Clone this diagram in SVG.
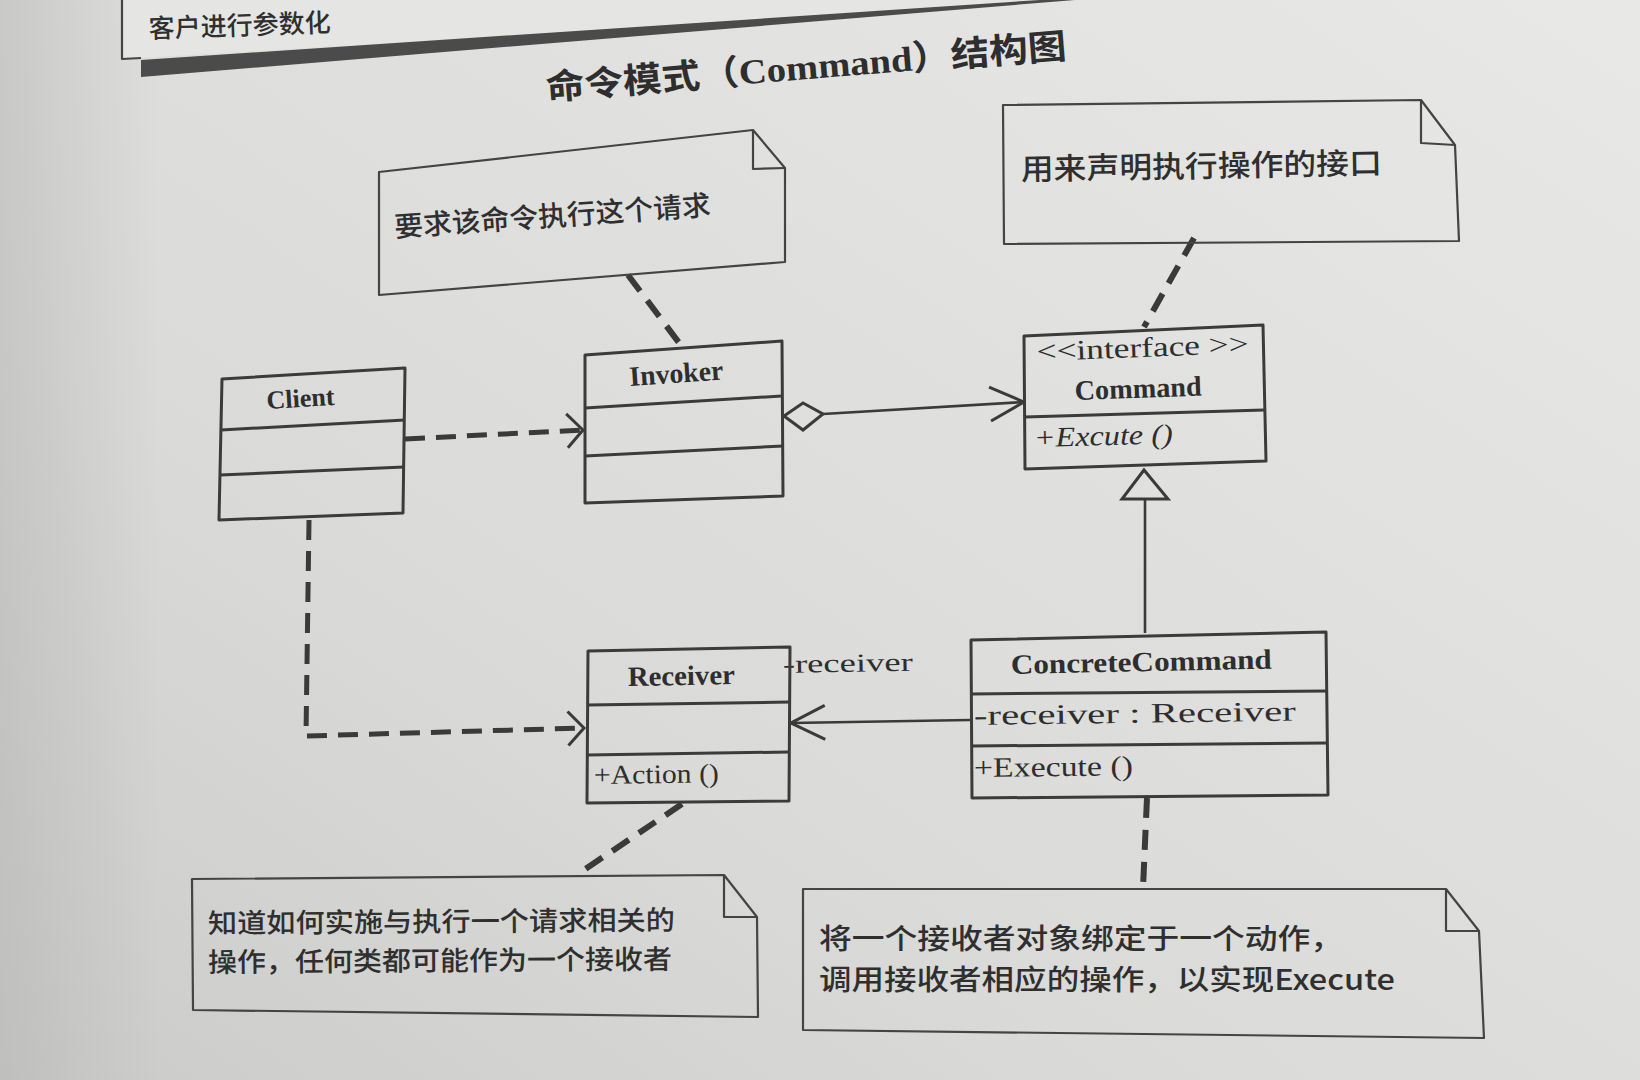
<svg xmlns="http://www.w3.org/2000/svg" width="1640" height="1080" viewBox="0 0 1640 1080">
<defs>
<linearGradient id="paper" x1="0" y1="1" x2="1" y2="0">
<stop offset="0" stop-color="#cbccc9"/>
<stop offset="0.35" stop-color="#dadad8"/>
<stop offset="1" stop-color="#e8e8e6"/>
</linearGradient>
<linearGradient id="leftshade" x1="0" y1="0" x2="1" y2="0">
<stop offset="0" stop-color="#b0b1ae" stop-opacity="0.45"/>
<stop offset="1" stop-color="#b0b1ae" stop-opacity="0"/>
</linearGradient>
<marker id="open" viewBox="0 0 40 40" refX="38" refY="20" markerWidth="40" markerHeight="40" markerUnits="userSpaceOnUse" orient="auto">
<path d="M4 3 L38 20 L4 37" fill="none" stroke="#3a3a3a" stroke-width="3"/>
</marker>
<marker id="open2" viewBox="0 0 30 40" refX="28" refY="20" markerWidth="30" markerHeight="40" markerUnits="userSpaceOnUse" orient="auto">
<path d="M12 3 L28 20 L12 37" fill="none" stroke="#3a3a3a" stroke-width="3"/>
</marker>
</defs>
<style>
.box{fill:none;stroke:#3b3b3b;stroke-width:3;stroke-linejoin:round}
.div{fill:none;stroke:#3b3b3b;stroke-width:3}
.note{fill:none;stroke:#444;stroke-width:2.2;stroke-linejoin:round}
.dep{fill:none;stroke:#3a3a3a;stroke-width:5;stroke-dasharray:20 11}
.ndash{fill:none;stroke:#3a3a3a;stroke-width:6;stroke-dasharray:20 12}
.solid{fill:none;stroke:#3a3a3a;stroke-width:2.6}
.cls{font-family:"Liberation Serif",serif;font-weight:bold;fill:#2e2e2e}
.mem{font-family:"Liberation Serif",serif;fill:#2e2e2e}
.cn{font-family:"Noto Sans CJK SC",sans-serif;font-weight:500;fill:#2f2f2f}
.title{font-family:"Liberation Serif","Noto Sans CJK SC",serif;font-weight:bold;fill:#2e2e2e}
</style>
<rect width="1640" height="1080" fill="url(#paper)"/>
<rect width="160" height="1080" fill="url(#leftshade)"/>

<g id="page-top">
<path d="M122 0 L122 59 L1100 0 Z" fill="#e5e5e3"/>
<path d="M141 60 L1040 0 L1075 0 L141 77 Z" fill="#4b4b4b"/>
<path d="M122 0 L122 59 L141 58" class="note"/>
<text class="cn" font-size="26" transform="translate(149,38) rotate(-2)">客户进行参数化</text>
</g>

<g id="title">
<text class="title" font-size="35" transform="translate(547,100) rotate(-4.6)" textLength="522" lengthAdjust="spacingAndGlyphs">命令模式（Command）结构图</text>
</g>

<g id="connectors">
<line class="ndash" x1="628" y1="275" x2="683" y2="348"/>
<line class="ndash" x1="1194" y1="238" x2="1144" y2="327"/>
<line class="ndash" x1="682" y1="804" x2="578" y2="874"/>
<line class="ndash" x1="1147" y1="798" x2="1143" y2="888"/>
<line class="dep" x1="405" y1="439" x2="583" y2="430" marker-end="url(#open2)"/>
<polyline class="dep" points="309,520 306,736 584,728" marker-end="url(#open2)"/>
<polygon points="784,416 803,403 823,414 803,430" fill="none" stroke="#3a3a3a" stroke-width="3"/>
<line class="solid" x1="823" y1="414" x2="1024" y2="402" marker-end="url(#open)"/>
<line class="solid" x1="970" y1="720" x2="791" y2="723" marker-end="url(#open)"/>
<text class="mem" font-size="26" transform="translate(783,673) rotate(-1)" textLength="130" lengthAdjust="spacingAndGlyphs">-receiver</text>
<polygon points="1144,470 1122,499 1168,499" fill="none" stroke="#3a3a3a" stroke-width="3"/>
<line class="solid" x1="1145" y1="499" x2="1145" y2="633"/>
</g>

<g id="note-invoker">
<polygon class="note" points="379,172 753,130 785,168 785,262 379,295"/>
<polyline class="note" points="753,130 753,169 785,168"/>
<text class="cn" font-size="28" transform="translate(395,237) rotate(-4)" textLength="317" lengthAdjust="spacingAndGlyphs">要求该命令执行这个请求</text>
</g>

<g id="note-command">
<polygon class="note" points="1003,105 1421,100 1455,145 1459,241 1004,244"/>
<polyline class="note" points="1421,100 1421,143 1455,145"/>
<text class="cn" font-size="30" transform="translate(1021,180) rotate(-1)" textLength="361" lengthAdjust="spacingAndGlyphs">用来声明执行操作的接口</text>
</g>

<g id="note-receiver">
<polygon class="note" points="192,879 724,875 757,917 758,1017 193,1010"/>
<polyline class="note" points="724,875 724,917 757,917"/>
<text class="cn" font-size="27" transform="translate(208,933) rotate(-0.4)" textLength="467" lengthAdjust="spacingAndGlyphs">知道如何实施与执行一个请求相关的</text>
<text class="cn" font-size="27" transform="translate(208,972) rotate(-0.4)" textLength="464" lengthAdjust="spacingAndGlyphs">操作，任何类都可能作为一个接收者</text>
</g>

<g id="note-concrete">
<polygon class="note" points="803,889 1446,889 1479,931 1484,1038 803,1030"/>
<polyline class="note" points="1446,889 1446,931 1479,931"/>
<text class="cn" font-size="28" transform="translate(819,949)" textLength="524" lengthAdjust="spacingAndGlyphs">将一个接收者对象绑定于一个动作，</text>
<text class="cn" font-size="28" transform="translate(819,990)" textLength="576" lengthAdjust="spacingAndGlyphs">调用接收者相应的操作，以实现Execute</text>
</g>

<g id="client">
<polygon class="box" points="222,379 405,368 403,513 219,520"/>
<line class="div" x1="221" y1="430" x2="405" y2="420"/>
<line class="div" x1="220" y1="475" x2="404" y2="467"/>
<text class="cls" font-size="26" transform="translate(267,409) rotate(-3.4)" textLength="68" lengthAdjust="spacingAndGlyphs">Client</text>
</g>

<g id="invoker">
<polygon class="box" points="585,355 782,341 783,496 585,503"/>
<line class="div" x1="585" y1="408" x2="782" y2="396"/>
<line class="div" x1="585" y1="456" x2="783" y2="446"/>
<text class="cls" font-size="28" transform="translate(630,386) rotate(-4)" textLength="94" lengthAdjust="spacingAndGlyphs">Invoker</text>
</g>

<g id="command">
<polygon class="box" points="1024,336 1263,325 1266,461 1025,469"/>
<line class="div" x1="1025" y1="417" x2="1264" y2="410"/>
<text class="mem" font-size="28" transform="translate(1037,361) rotate(-2.2)" textLength="212" lengthAdjust="spacingAndGlyphs">&lt;&lt;interface &gt;&gt;</text>
<text class="cls" font-size="28" transform="translate(1075,400) rotate(-2)" textLength="127" lengthAdjust="spacingAndGlyphs">Command</text>
<text class="mem" font-size="28" font-style="italic" transform="translate(1034,447) rotate(-1.5)" textLength="139" lengthAdjust="spacingAndGlyphs">+Excute ()</text>
</g>

<g id="receiver">
<polygon class="box" points="588,651 790,647 789,801 587,803"/>
<line class="div" x1="587" y1="705" x2="790" y2="702"/>
<line class="div" x1="587" y1="755" x2="789" y2="752"/>
<text class="cls" font-size="28" transform="translate(628,686) rotate(-1)" textLength="107" lengthAdjust="spacingAndGlyphs">Receiver</text>
<text class="mem" font-size="27" transform="translate(594,784) rotate(-0.8)" textLength="125" lengthAdjust="spacingAndGlyphs">+Action ()</text>
</g>

<g id="concrete-command">
<polygon class="box" points="971,640 1326,632 1328,795 972,798"/>
<line class="div" x1="971" y1="694" x2="1326" y2="691"/>
<line class="div" x1="972" y1="746" x2="1327" y2="743"/>
<text class="cls" font-size="28" transform="translate(1011,674) rotate(-1.2)" textLength="261" lengthAdjust="spacingAndGlyphs">ConcreteCommand</text>
<text class="mem" font-size="28" transform="translate(974,725) rotate(-0.8)" textLength="322" lengthAdjust="spacingAndGlyphs">-receiver  : Receiver</text>
<text class="mem" font-size="28" transform="translate(974,777) rotate(-0.6)" textLength="159" lengthAdjust="spacingAndGlyphs">+Execute ()</text>
</g>
</svg>
